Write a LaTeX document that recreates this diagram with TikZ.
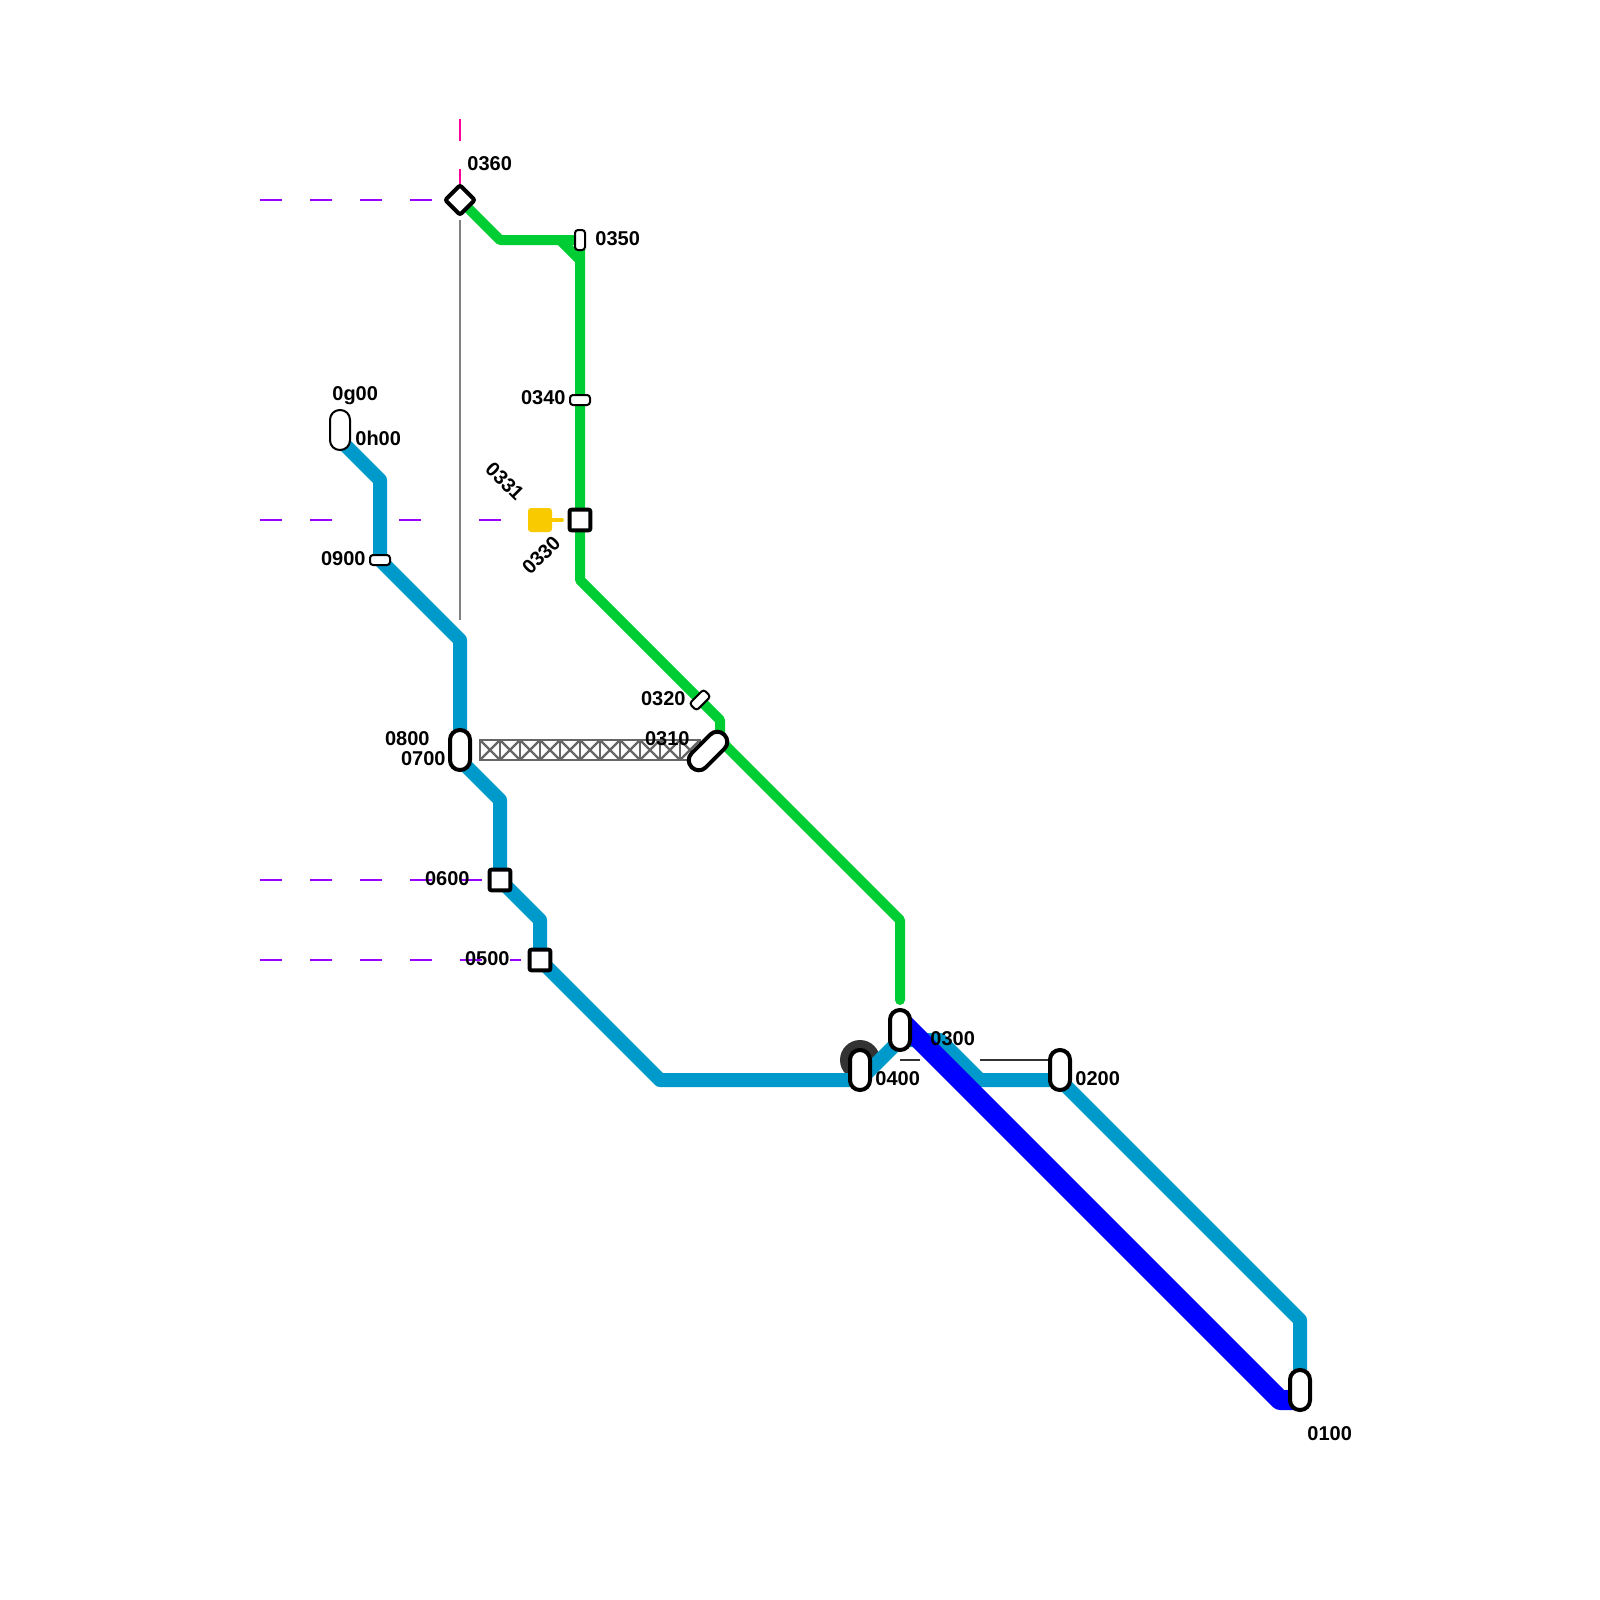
\documentclass[tikz,border=0pt]{standalone}
\usepackage{fontspec}
\setmainfont{Liberation Sans}
\usetikzlibrary{backgrounds}
\definecolor{trunkblue}{HTML}{0099CC}
\definecolor{expressblue}{HTML}{0000FF}
\definecolor{branchgreen}{HTML}{00CC33}
\definecolor{spurgold}{HTML}{FACA00}
\definecolor{tunnelviolet}{HTML}{9900FF}
\definecolor{tunnelpink}{HTML}{FF0099}
\definecolor{trussgrey}{HTML}{666666}
\tikzset{
  trunk/.style={trunkblue,line width=7pt,line join=round},
  express/.style={expressblue,line width=10pt,line join=round},
  branch/.style={branchgreen,line width=5pt,line join=round},
  tunnel/.style={line width=1.3pt,dash pattern=on 11pt off 14pt},
  capsule/.style={draw,fill=white,line width=2pt,inner sep=0pt,outer sep=0pt,minimum width=10pt,minimum height=20pt,rounded corners=4.9pt},
  slim/.style={draw,fill=white,line width=1pt,inner sep=0pt,outer sep=0pt,minimum width=10pt,minimum height=5pt,rounded corners=1.5pt},
  boxstop/.style={draw,fill=white,line width=2pt,inner sep=0pt,outer sep=0pt,minimum size=10.4pt,rounded corners=1pt},
  lbl/.style={inner sep=0pt,font=\fontsize{10}{12}\selectfont\bfseries,text height=7.2pt,text depth=0pt},
}
\begin{document}
\begin{tikzpicture}[x=0.5pt,y=-0.5pt]
  \useasboundingbox (0,0) rectangle (1600,1600);
  % stations
  \node[capsule,line width=1pt] (s0g00) at (340,430) {};
  \node[slim] (s0900) at (380,560) {};
  \node[capsule] (s0800) at (460,750) {};
  \node[boxstop] (s0600) at (500,880) {};
  \node[boxstop] (s0500) at (540,960) {};
  \node[capsule] (s0400) at (860,1070) {};
  \node[capsule] (s0300) at (900,1030) {};
  \node[capsule] (s0200) at (1060,1070) {};
  \node[capsule] (s0100) at (1300,1390) {};
  \node[capsule,minimum width=23pt,minimum height=10pt,rotate=45] (s0310) at (708,751) {};
  \node[slim,rotate=45] (s0320) at (700,700) {};
  \node[boxstop] (s0330) at (580,520) {};
  \node[fill=spurgold,inner sep=0pt,minimum size=12pt,rounded corners=1.5pt] (s0331) at (540,520) {};
  \node[slim] (s0340) at (580,400) {};
  \node[slim,rotate=90] (s0350) at (580,240) {};
  \node[boxstop,rotate=45] (s0360) at (460,200) {};
  \coordinate (t0g00) at (340,440);
  \coordinate (t0331) at (562,520);
  \coordinate (t0300) at (900,1000);
  \coordinate (t0200) at (1050,1060);
  \coordinate (t0600) at (482,880);
  \coordinate (t0500) at (521,960);
  % labels
  \node[lbl,anchor=west] at (467,163) {0360};
  \node[lbl,anchor=west] at (595,238) {0350};
  \node[lbl,anchor=east] at (566,397) {0340};
  \node[lbl,anchor=west] at (332,393) {0g00};
  \node[lbl,anchor=west] at (355,438) {0h00};
  \node[lbl,anchor=east] at (366,558) {0900};
  \node[lbl,rotate=-45] at (505,481) {0331};
  \node[lbl,rotate=45] at (541,555) {0330};
  \node[lbl,anchor=east] at (686,698) {0320};
  \node[lbl,anchor=east] at (690,738) {0310};
  \node[lbl,anchor=east] at (430,738) {0800};
  \node[lbl,anchor=east] at (446,758) {0700};
  \node[lbl,anchor=east] at (470,878) {0600};
  \node[lbl,anchor=east] at (510,958) {0500};
  \node[lbl,anchor=west] at (875,1078) {0400};
  \node[lbl,anchor=west] at (930,1038) {0300};
  \node[lbl,anchor=west] at (1075,1078) {0200};
  \node[lbl,anchor=west] at (1307,1433) {0100};
  \begin{scope}[on background layer]
    % tunnels and passages
    \draw[tunnel,tunnelviolet] (260,200) -- (s0360.center);
    \draw[tunnel,tunnelviolet] (260,520) -- (360,520);
    \draw[tunnel,tunnelviolet] (399,520) -- (421,520);
    \draw[tunnel,tunnelviolet] (479,520) -- (501,520);
    \draw[tunnel,tunnelviolet] (260,880) -- (t0600);
    \draw[tunnel,tunnelviolet] (260,960) -- (t0500);
    \draw[tunnel,tunnelpink] (460,119) -- (s0360.center);
    \draw[line width=1.3pt,gray] (460,220) -- (460,620);
    \draw[line width=1.3pt,black!80] (900,1060) -- (920,1060);
    \draw[line width=1.3pt,black!80] (980,1060) -- (t0200);
    \node[circle,fill=black!80,inner sep=0pt,minimum size=20pt] (h0400) at (860,1060) {};
    % bridge
    \foreach \x in {480,500,...,680} {
      \draw[line width=1.3pt,trussgrey] (\x,740) rectangle +(20,20);
      \draw[line width=1.1pt,trussgrey] (\x,740) -- +(20,20) (\x,760) -- +(20,-20);
    }
    % lines
    \draw[line width=2pt,spurgold,line cap=round] (s0331) -- (t0331);
    \draw[trunk] (t0g00) -- (380,480) -- (s0900.center) -- (460,640) -- (s0800.center);
    \draw[trunk] (s0800.center) -- (460,760) -- (500,800) -- (s0600.center) -- (540,920)
      -- (s0500.center) -- (660,1080) -- (860,1080) -- (900,1040) -- (940,1040) -- (980,1080)
      -- (1060,1080) -- (1300,1320) -- (s0100.center);
    \draw[express] (s0300.center) -- (900,1020) -- (1280,1400) -- (1300,1400);
    \draw[branch] (s0360.center) -- (500,240) -- (s0350.center) -- (s0340.center) -- (s0330.center)
      -- (580,580) -- (720,720) -- (720,740) -- (900,920) -- (t0300);
    \draw[branch,line cap=round] (900,990) -- (t0300);
    \draw[branch] (560,240) -- (580,260);
  \end{scope}
\end{tikzpicture}
\end{document}
